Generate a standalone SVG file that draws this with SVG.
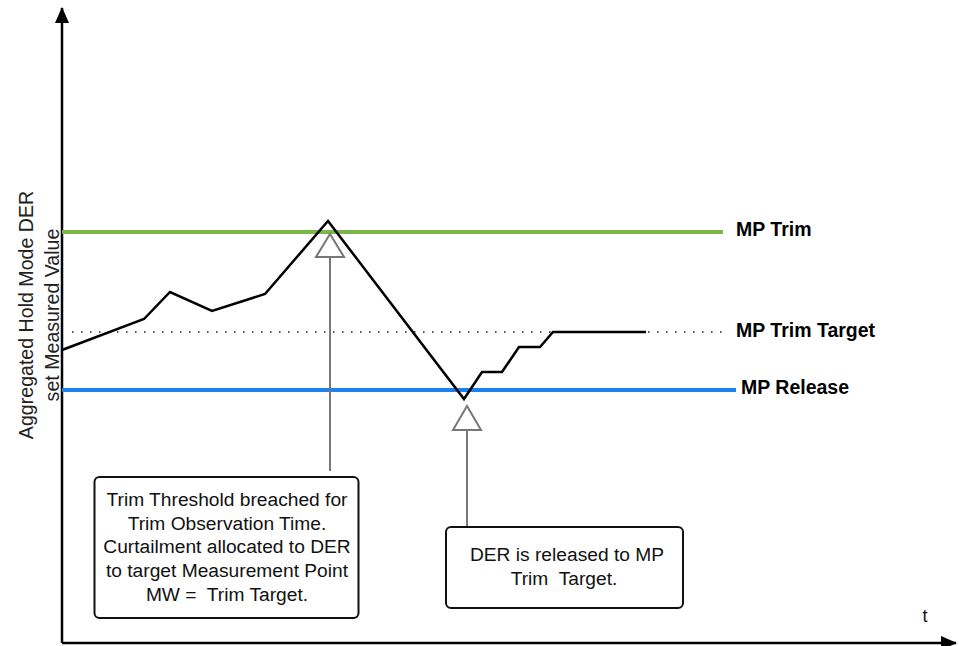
<svg xmlns="http://www.w3.org/2000/svg" width="959" height="646" viewBox="0 0 959 646">
<style>
  text { font-family: "Liberation Sans", Arial, sans-serif; fill: #111; white-space: pre; }
  .box { fill: #fff; stroke: #111; stroke-width: 2; }
  .boxtxt { font-size: 19.2px; text-anchor: middle; }
  .lbl { font-size: 19.5px; font-weight: bold; fill: #000; }
  .axislbl { font-size: 19.6px; text-anchor: middle; fill: #222; }
  .conn { stroke: #777; stroke-width: 2; fill: none; }
  .tri { stroke: #777; stroke-width: 2; fill: #fff; stroke-linejoin: miter; }
  .axis { stroke: #000; stroke-width: 2.5; fill: none; }
</style>
<defs>
  <marker id="arr" viewBox="0 0 16 14" refX="15" refY="7" markerUnits="userSpaceOnUse" markerWidth="16" markerHeight="14" orient="auto">
    <path d="M0,0 L16,7 L0,14 Z" fill="#000"/>
  </marker>
</defs>

<g id="axes">
  <line class="axis" x1="62" y1="643" x2="62" y2="8" marker-end="url(#arr)"/>
  <line class="axis" x1="62" y1="643" x2="956" y2="643" marker-end="url(#arr)"/>
  <text class="axislbl" transform="translate(33,315) rotate(-90)">Aggregated Hold Mode DER</text>
  <text class="axislbl" transform="translate(59,315) rotate(-90)">set Measured Value</text>
  <text x="925" y="622" style="font-size:18px;text-anchor:middle">t</text>
</g>

<g id="thresholds">
  <line x1="62" y1="232" x2="723" y2="232" stroke="#7ab648" stroke-width="4"/>
  <line x1="62" y1="390" x2="736" y2="390" stroke="#1a82f0" stroke-width="4"/>
  <line x1="72" y1="332" x2="727" y2="332" stroke="#222" stroke-width="1.5" stroke-dasharray="1.5 7.5"/>
  <text class="lbl" x="736" y="236">MP Trim</text>
  <text class="lbl" x="736" y="337">MP Trim Target</text>
  <text class="lbl" x="741" y="394">MP Release</text>
</g>

<g id="measured-value">
  <polyline fill="none" stroke="#000" stroke-width="2.5" stroke-linejoin="miter" points="62,350 144,319 170,292 212,311 265,294 328,221 464,399 482,372 502,372 519,347 540,347 553,332 646,332"/>
</g>

<g id="connectors">
  <line class="conn" x1="330" y1="257" x2="330" y2="471"/>
  <polygon class="tri" points="330,234 316,257 344,257"/>
  <line class="conn" x1="467" y1="430" x2="467" y2="527"/>
  <polygon class="tri" points="467,406 453,430 481,430"/>
</g>

<g id="note-trim">
  <rect class="box" x="94.5" y="477" width="264" height="141" rx="5"/>
  <text class="boxtxt" x="227" y="506">Trim Threshold breached for</text>
  <text class="boxtxt" x="227" y="529.7">Trim Observation Time.</text>
  <text class="boxtxt" x="227" y="553.4">Curtailment allocated to DER</text>
  <text class="boxtxt" x="227" y="577">to target Measurement Point</text>
  <text class="boxtxt" x="227" y="600.7">MW =  Trim Target.</text>
</g>

<g id="note-release">
  <rect class="box" x="446" y="527" width="237" height="81" rx="5"/>
  <text class="boxtxt" x="567" y="561">DER is released to MP</text>
  <text class="boxtxt" x="564" y="585">Trim  Target.</text>
</g>
</svg>
